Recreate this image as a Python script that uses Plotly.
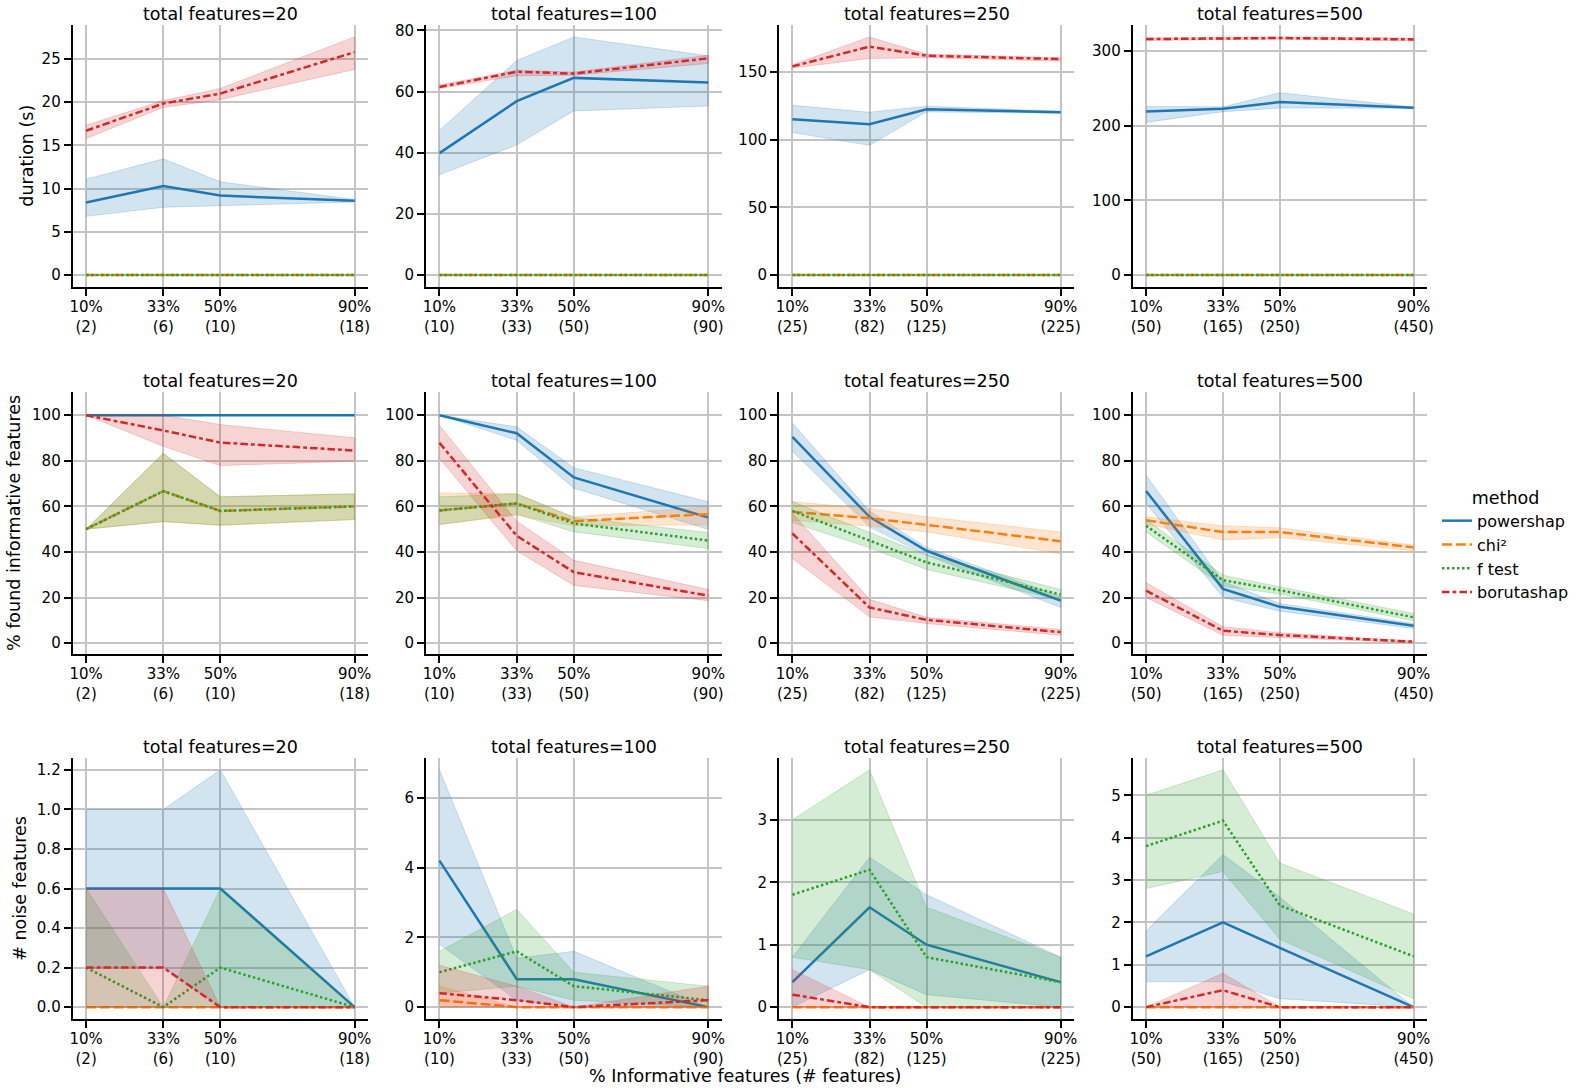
import plotly.graph_objects as go

W, H = 1595, 1088

# ---------------- data ----------------
PCT = [10, 33, 50, 90]
PCT_LABELS = ["10%", "33%", "50%", "90%"]
TOTALS = [20, 100, 250, 500]
N_FEATURES = [[2, 6, 10, 18], [10, 33, 50, 90], [25, 82, 125, 225], [50, 165, 250, 450]]
METHODS = ["powershap", "chi²", "f test", "borutashap"]
ROW_LABELS = ["duration (s)", "% found informative features", "# noise features"]

# duration (s): one list of 4 values per total features (20, 100, 250, 500)
DUR_POWERSHAP_MEAN = [[8.4, 10.3, 9.2, 8.6], [39.9, 56.9, 64.5, 63.0], [115.1, 111.4, 122.6, 120.3], [218.9, 222.5, 231.4, 223.8]]
DUR_POWERSHAP_LO = [[6.8, 7.85, 8.05, 8.45], [32.8, 42.6, 53.7, 55.3], [105.3, 95.9, 120.6, 119.6], [204.2, 218.5, 223.4, 223.0]]
DUR_POWERSHAP_HI = [[11.1, 13.45, 10.8, 8.75], [47.3, 70.2, 77.9, 71.7], [125.5, 120.3, 124.8, 121.1], [225.6, 225.0, 243.9, 224.7]]
DUR_CHI2_MEAN = [[0.0, 0.0, 0.0, 0.0], [0.0, 0.0, 0.0, 0.0], [0.0, 0.0, 0.0, 0.0], [0.0, 0.0, 0.0, 0.0]]
DUR_CHI2_LO = [[0.0, 0.0, 0.0, 0.0], [0.0, 0.0, 0.0, 0.0], [0.0, 0.0, 0.0, 0.0], [0.0, 0.0, 0.0, 0.0]]
DUR_CHI2_HI = [[0.0, 0.0, 0.0, 0.0], [0.0, 0.0, 0.0, 0.0], [0.0, 0.0, 0.0, 0.0], [0.0, 0.0, 0.0, 0.0]]
DUR_FTEST_MEAN = [[0.0, 0.0, 0.0, 0.0], [0.0, 0.0, 0.0, 0.0], [0.0, 0.0, 0.0, 0.0], [0.0, 0.0, 0.0, 0.0]]
DUR_FTEST_LO = [[0.0, 0.0, 0.0, 0.0], [0.0, 0.0, 0.0, 0.0], [0.0, 0.0, 0.0, 0.0], [0.0, 0.0, 0.0, 0.0]]
DUR_FTEST_HI = [[0.0, 0.0, 0.0, 0.0], [0.0, 0.0, 0.0, 0.0], [0.0, 0.0, 0.0, 0.0], [0.0, 0.0, 0.0, 0.0]]
DUR_BORUTA_MEAN = [[16.7, 19.85, 21.0, 25.8], [61.5, 66.5, 65.9, 70.9], [154.2, 168.8, 162.1, 159.6], [315.6, 316.5, 317.0, 315.2]]
DUR_BORUTA_LO = [[15.8, 19.4, 20.3, 23.8], [61.0, 65.2, 65.4, 69.2], [153.0, 160.0, 160.6, 158.1], [313.8, 315.0, 315.5, 313.0]]
DUR_BORUTA_HI = [[17.35, 20.2, 21.6, 27.56], [62.2, 67.0, 66.4, 71.9], [155.5, 176.0, 163.3, 160.6], [317.2, 318.0, 318.5, 317.0]]

# % found informative features
FOUND_POWERSHAP_MEAN = [[100, 100, 100, 100], [100, 92.1, 72.7, 55.1], [90.5, 55.4, 40.5, 18.6], [66.7, 23.8, 15.9, 7.6]]
FOUND_POWERSHAP_LO = [[100, 100, 100, 100], [100, 89.0, 68.0, 49.9], [84.2, 51.0, 38.6, 15.6], [61.3, 20.0, 14.0, 6.4]]
FOUND_POWERSHAP_HI = [[100, 100, 100, 100], [100, 94.9, 77.0, 62.0], [96.6, 58.0, 42.0, 20.3], [73.7, 26.9, 17.4, 8.6]]
FOUND_CHI2_MEAN = [[50.0, 66.7, 58.0, 60.0], [58.2, 61.3, 53.5, 56.6], [57.6, 54.8, 51.9, 44.7], [53.9, 48.7, 48.7, 42.0]]
FOUND_CHI2_LO = [[50.0, 53.3, 51.7, 54.2], [52.0, 56.1, 51.5, 51.8], [53.9, 51.3, 48.8, 39.3], [52.2, 45.2, 46.3, 40.5]]
FOUND_CHI2_HI = [[50.0, 83.3, 64.2, 65.5], [65.9, 65.6, 55.4, 59.8], [62.0, 59.1, 55.4, 48.8], [55.4, 51.5, 50.6, 43.0]]
FOUND_FTEST_MEAN = [[50.0, 66.7, 58.0, 60.0], [58.2, 61.3, 52.5, 45.0], [58.0, 45.2, 35.4, 21.3], [51.5, 27.6, 23.2, 11.3]]
FOUND_FTEST_LO = [[50.0, 53.3, 51.7, 54.2], [52.0, 56.6, 48.8, 41.5], [52.9, 41.8, 32.3, 18.9], [48.8, 25.0, 21.5, 9.8]]
FOUND_FTEST_HI = [[50.0, 83.3, 64.2, 65.5], [64.2, 65.4, 55.1, 48.5], [62.1, 48.4, 38.6, 23.5], [54.2, 29.8, 24.7, 13.0]]
FOUND_BORUTA_MEAN = [[100, 93.3, 88.0, 84.5], [87.9, 47.1, 31.1, 20.8], [48.1, 15.6, 10.2, 4.8], [23.0, 5.4, 3.5, 0.6]]
FOUND_BORUTA_LO = [[100, 86.4, 77.9, 79.8], [81.1, 40.5, 25.3, 18.6], [37.1, 11.5, 8.6, 3.4], [20.0, 3.4, 2.5, 0.1]]
FOUND_BORUTA_HI = [[100, 100, 95.9, 90.1], [95.6, 53.5, 36.3, 23.5], [57.0, 19.2, 11.3, 6.0], [26.5, 7.2, 4.5, 0.9]]

# number of noise features selected
NOISE_POWERSHAP_MEAN = [[0.6, 0.6, 0.6, 0.0], [4.2, 0.8, 0.8, 0.0], [0.4, 1.6, 1.0, 0.4], [1.2, 2.0, 1.4, 0.0]]
NOISE_POWERSHAP_LO = [[0.2, 0.2, 0.0, 0.0], [1.8, 0.2, 0.0, 0.0], [0.0, 0.6, 0.2, 0.0], [0.6, 0.6, 0.2, 0.0]]
NOISE_POWERSHAP_HI = [[1.0, 1.0, 1.2, 0.0], [6.8, 1.4, 1.6, 0.0], [0.8, 2.4, 1.8, 0.8], [1.8, 3.6, 2.6, 0.0]]
NOISE_CHI2_MEAN = [[0.0, 0.0, 0.0, 0.0], [0.2, 0.0, 0.0, 0.0], [0.0, 0.0, 0.0, 0.0], [0.0, 0.0, 0.0, 0.0]]
NOISE_CHI2_LO = [[0.0, 0.0, 0.0, 0.0], [0.0, 0.0, 0.0, 0.0], [0.0, 0.0, 0.0, 0.0], [0.0, 0.0, 0.0, 0.0]]
NOISE_CHI2_HI = [[0.0, 0.0, 0.0, 0.0], [0.6, 0.0, 0.0, 0.0], [0.0, 0.0, 0.0, 0.0], [0.0, 0.0, 0.0, 0.0]]
NOISE_FTEST_MEAN = [[0.2, 0.0, 0.2, 0.0], [1.0, 1.6, 0.6, 0.2], [1.8, 2.2, 0.8, 0.4], [3.8, 4.4, 2.4, 1.2]]
NOISE_FTEST_LO = [[0.0, 0.0, 0.0, 0.0], [0.4, 0.6, 0.2, 0.0], [0.8, 0.6, 0.0, 0.0], [2.8, 3.2, 1.6, 0.2]]
NOISE_FTEST_HI = [[0.6, 0.0, 0.6, 0.0], [1.6, 2.8, 1.0, 0.6], [3.0, 3.8, 1.6, 0.8], [5.0, 5.6, 3.4, 2.2]]
NOISE_BORUTA_MEAN = [[0.2, 0.2, 0.0, 0.0], [0.4, 0.2, 0.0, 0.2], [0.2, 0.0, 0.0, 0.0], [0.0, 0.4, 0.0, 0.0]]
NOISE_BORUTA_LO = [[0.0, 0.0, 0.0, 0.0], [0.0, 0.0, 0.0, 0.0], [0.0, 0.0, 0.0, 0.0], [0.0, 0.0, 0.0, 0.0]]
NOISE_BORUTA_HI = [[0.6, 0.6, 0.0, 0.0], [1.2, 0.6, 0.0, 0.6], [0.6, 0.0, 0.0, 0.0], [0.0, 0.8, 0.0, 0.0]]

Y_DTICK = [[5, 20, 50, 100], [20, 20, 20, 20], [0.2, 2, 1, 1]]

DATA = [
    [(DUR_POWERSHAP_MEAN, DUR_POWERSHAP_LO, DUR_POWERSHAP_HI),
     (DUR_CHI2_MEAN, DUR_CHI2_LO, DUR_CHI2_HI),
     (DUR_FTEST_MEAN, DUR_FTEST_LO, DUR_FTEST_HI),
     (DUR_BORUTA_MEAN, DUR_BORUTA_LO, DUR_BORUTA_HI)],
    [(FOUND_POWERSHAP_MEAN, FOUND_POWERSHAP_LO, FOUND_POWERSHAP_HI),
     (FOUND_CHI2_MEAN, FOUND_CHI2_LO, FOUND_CHI2_HI),
     (FOUND_FTEST_MEAN, FOUND_FTEST_LO, FOUND_FTEST_HI),
     (FOUND_BORUTA_MEAN, FOUND_BORUTA_LO, FOUND_BORUTA_HI)],
    [(NOISE_POWERSHAP_MEAN, NOISE_POWERSHAP_LO, NOISE_POWERSHAP_HI),
     (NOISE_CHI2_MEAN, NOISE_CHI2_LO, NOISE_CHI2_HI),
     (NOISE_FTEST_MEAN, NOISE_FTEST_LO, NOISE_FTEST_HI),
     (NOISE_BORUTA_MEAN, NOISE_BORUTA_LO, NOISE_BORUTA_HI)],
]

# ---------------- style ----------------
COLORS = ["#1f77b4", "#ff7f0e", "#2ca02c", "#d62728"]
FILLS = ["rgba(31,119,180,0.2)", "rgba(255,127,14,0.2)", "rgba(44,160,44,0.2)", "rgba(214,39,40,0.2)"]
DASHES = ["solid", "10px,3.75px", "2.5px,2.5px", "7.5px,3.1px,3.75px,3.1px"]
FONT = "DejaVu Sans"

COL_L = [72.7, 426.0, 779.0, 1132.7]
COL_R = [368.0, 721.7, 1074.0, 1427.0]
ROW_T = [25.0, 392.0, 758.0]
ROW_B = [287.0, 654.0, 1019.0]
YLABEL_X = [26.7, 14.0, 19.3]

fig = go.Figure()
layout = {}
annotations = []

for r in range(3):
    for c in range(4):
        n = r * 4 + c + 1
        xa = "x" if n == 1 else f"x{n}"
        ya = "y" if n == 1 else f"y{n}"
        allv = []
        for m in range(4):
            mean, lo, hi = (arr[c] for arr in DATA[r][m])
            allv += list(mean) + list(lo) + list(hi)
            # line first, then band (seaborn order)
            fig.add_trace(go.Scatter(
                x=PCT, y=mean, mode="lines", xaxis=xa, yaxis=ya,
                line=dict(color=COLORS[m], width=2.5, dash=DASHES[m]),
                name=METHODS[m], legendgroup=METHODS[m],
                showlegend=(n == 1), hoverinfo="skip"))
            fig.add_trace(go.Scatter(
                x=PCT + PCT[::-1], y=list(hi) + list(lo)[::-1], mode="lines",
                xaxis=xa, yaxis=ya, fill="toself", fillcolor=FILLS[m],
                line=dict(color=FILLS[m], width=1), showlegend=False,
                hoverinfo="skip"))
        if r == 1:
            yr = [-4.8, 110.2]
        else:
            lo_v, hi_v = min(allv), max(allv)
            pad = 0.05 * (hi_v - lo_v)
            yr = [lo_v - pad, hi_v + pad]
        xdom = [COL_L[c] / W, COL_R[c] / W]
        ydom = [1 - ROW_B[r] / H, 1 - ROW_T[r] / H]
        axis_common = dict(
            showline=True, linecolor="black", linewidth=2,
            ticks="outside", ticklen=7, tickwidth=1.8, tickcolor="black",
            showgrid=True, gridcolor="#c4c4c4", gridwidth=1.5,
            zeroline=False, automargin=False,
            tickfont=dict(family=FONT, size=15, color="black"),
        )
        layout["xaxis" if n == 1 else f"xaxis{n}"] = dict(
            axis_common, domain=xdom, anchor=ya, range=[6, 94],
            tickmode="array", tickvals=PCT, ticklabelstandoff=-2,
            ticktext=[f"{PCT_LABELS[i]}<br>({N_FEATURES[c][i]})" for i in range(4)],
        )
        layout["yaxis" if n == 1 else f"yaxis{n}"] = dict(
            axis_common, domain=ydom, anchor=xa, range=yr,
            tick0=0, dtick=Y_DTICK[r][c],
            tickformat=".1f" if (r == 2 and c == 0) else None,
        )
        annotations.append(dict(
            text=f"total features={TOTALS[c]}", xref="paper", yref="paper",
            x=(COL_L[c] + COL_R[c]) / 2 / W, y=1 - (ROW_T[r] - 11) / H,
            xanchor="center", yanchor="middle", showarrow=False,
            font=dict(family=FONT, size=17.5, color="black")))
    annotations.append(dict(
        text=ROW_LABELS[r], xref="paper", yref="paper", textangle=-90,
        x=YLABEL_X[r] / W, y=1 - (ROW_T[r] + ROW_B[r]) / 2 / H,
        xanchor="center", yanchor="middle", showarrow=False,
        font=dict(family=FONT, size=17.5, color="black")))

annotations.append(dict(
    text="% Informative features (# features)", xref="paper", yref="paper",
    x=745 / W, y=1 - 1076 / H, xanchor="center", yanchor="middle",
    showarrow=False, font=dict(family=FONT, size=17.5, color="black")))

fig.update_layout(
    **layout,
    width=W, height=H,
    margin=dict(l=0, r=0, t=0, b=0),
    paper_bgcolor="white", plot_bgcolor="white",
    annotations=annotations,
    font=dict(family=FONT, color="black"),
    legend=dict(
        x=1437 / W, y=1 - 481 / H, xanchor="left", yanchor="top",
        title=dict(text="method", side="top center", font=dict(family=FONT, size=17.5)),
        font=dict(family=FONT, size=16, color="black"),
        bgcolor="rgba(0,0,0,0)", borderwidth=0, tracegroupgap=0,
    ),
)

fig.write_html(
    "out.html",
    config={"displayModeBar": False},
    post_script="document.body.style.margin='0px';document.body.style.overflow='hidden';",
)
